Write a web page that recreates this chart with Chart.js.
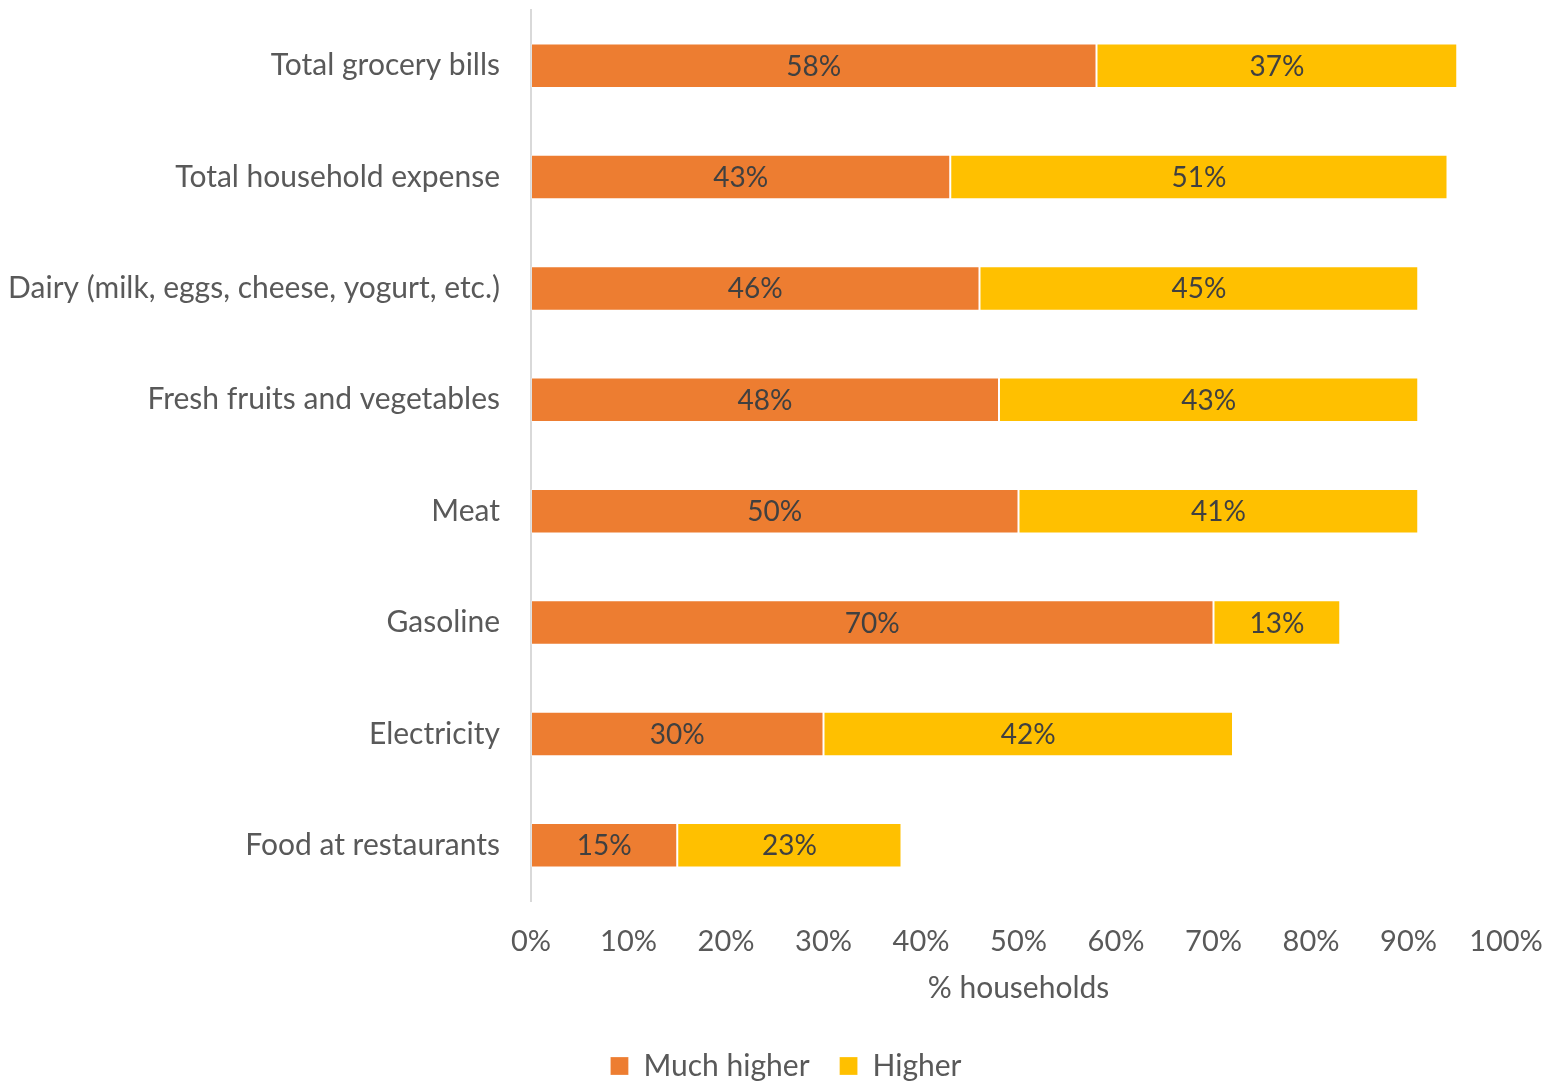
<!DOCTYPE html>
<html lang="en">
<head>
    <meta charset="UTF-8">
    <title>Price increases by category</title>
    <script src="https://cdn.jsdelivr.net/npm/chart.js"></script>
    <style>
        html, body { margin: 0; padding: 0; background: #fff; }
        #wrap { width: 1561px; height: 1082px; }
    </style>
</head>
<body>
    <div id="wrap"><canvas id="priceChart" width="1561" height="1082"></canvas></div>

    <script>
        const categories = [
            "Total grocery bills",
            "Total household expense",
            "Dairy (milk, eggs, cheese, yogurt, etc.)",
            "Fresh fruits and vegetables",
            "Meat",
            "Gasoline",
            "Electricity",
            "Food at restaurants"
        ];
        const muchHigher = [58, 43, 46, 48, 50, 70, 30, 15];
        const higher = [37, 51, 45, 43, 41, 13, 42, 23];
        const xTicks = [0, 10, 20, 30, 40, 50, 60, 70, 80, 90, 100];

        const FONT = "Lato, 'Open Sans', sans-serif";
        const GREY = "#595959";

        // writes each segment's value in the middle of its bar
        const barValues = {
            id: "barValues",
            afterDatasetsDraw(chart) {
                const ctx = chart.ctx;
                ctx.save();
                ctx.font = "28px " + FONT;
                ctx.fillStyle = "#404040";
                ctx.textAlign = "center";
                ctx.textBaseline = "middle";
                chart.data.datasets.forEach((ds, i) => {
                    chart.getDatasetMeta(i).data.forEach((bar, j) => {
                        const x = (bar.x + bar.base) / 2;
                        ctx.fillText(ds.data[j] + "%", x, bar.y + 1);
                    });
                });
                ctx.restore();
            }
        };

        // centre the legend under the whole figure rather than the padded box
        const legendShift = {
            id: "legendShift",
            afterLayout(chart) {
                if (!chart.legend) return;
                chart.legend.left += 33;
                chart.legend.right += 33;
            }
        };

        new Chart(document.getElementById("priceChart").getContext("2d"), {
            type: "bar",
            data: {
                labels: categories,
                datasets: [
                    {
                        label: "Much higher",
                        data: muchHigher,
                        backgroundColor: "#ED7D31",
                        borderColor: "rgba(255,255,255,0.25)",
                        borderWidth: 1,
                        borderSkipped: false
                    },
                    {
                        label: "Higher",
                        data: higher,
                        backgroundColor: "#FFC000",
                        borderColor: "rgba(255,255,255,0.25)",
                        borderWidth: 1,
                        borderSkipped: false
                    }
                ]
            },
            options: {
                indexAxis: "y",
                responsive: false,
                animation: false,
                layout: { padding: { top: 10, right: 55, bottom: -9, left: 0 } },
                datasets: {
                    bar: { barPercentage: 0.4, categoryPercentage: 1 }
                },
                scales: {
                    x: {
                        stacked: true,
                        min: 0,
                        max: 100,
                        afterBuildTicks: (axis) => { axis.ticks = xTicks.map(v => ({ value: v })); },
                        afterFit: (axis) => {
                            axis.height = 120;
                            axis.paddingLeft = 0;
                            axis.paddingRight = 0;
                        },
                        grid: { display: false, drawTicks: false },
                        border: { display: false },
                        ticks: {
                            color: GREY,
                            font: { family: FONT, size: 29 },
                            padding: 23,
                            callback: (v) => v + "%"
                        },
                        title: {
                            display: true,
                            text: "% households",
                            color: GREY,
                            font: { family: FONT, size: 30 },
                            padding: { top: 0, bottom: 15 }
                        }
                    },
                    y: {
                        stacked: true,
                        afterFit: (axis) => {
                            axis.width = 531;
                            axis.paddingTop = 0;
                            axis.paddingBottom = 0;
                        },
                        grid: { display: false, drawTicks: false },
                        border: { display: true, color: "#D9D9D9", width: 2 },
                        ticks: {
                            color: GREY,
                            font: { family: FONT, size: 30 },
                            padding: 31
                        }
                    }
                },
                plugins: {
                    legend: {
                        position: "bottom",
                        labels: {
                            color: GREY,
                            font: { family: FONT, size: 30 },
                            boxWidth: 18,
                            boxHeight: 18,
                            padding: 30
                        }
                    },
                    tooltip: { enabled: false }
                }
            },
            plugins: [barValues, legendShift]
        });
    </script>
</body>
</html>
